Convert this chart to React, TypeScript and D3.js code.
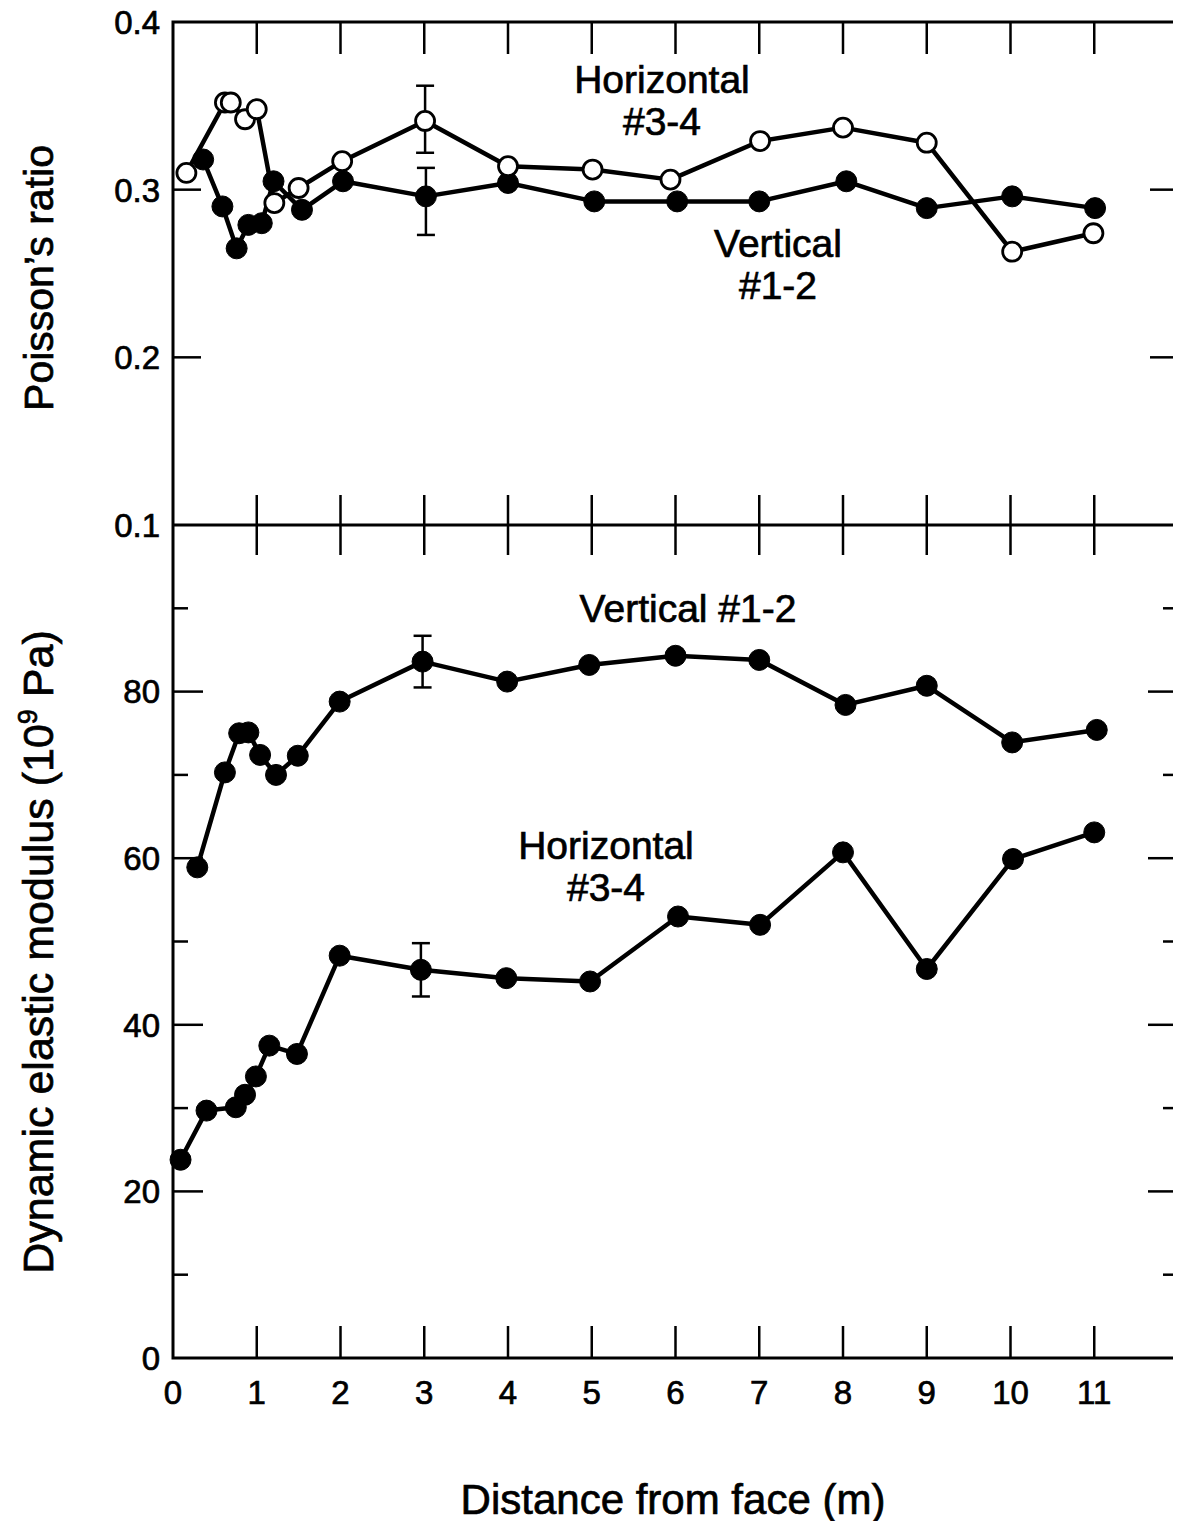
import React, { useRef, useEffect } from 'react';
import * as d3 from 'd3';

// Top panel: Poisson's ratio
const poissonVertX = [0.36, 0.59, 0.76, 0.9, 1.06, 1.2, 1.54, 2.03, 3.02, 4.0, 5.03, 6.02, 7.0, 8.04, 9.0, 10.02, 11.01];
const poissonVertY = [0.318, 0.29, 0.265, 0.279, 0.28, 0.305, 0.288, 0.305, 0.296, 0.304, 0.293, 0.293, 0.293, 0.305, 0.289, 0.296, 0.289];
const poissonHorX = [0.16, 0.62, 0.69, 0.86, 1.0, 1.21, 1.5, 2.02, 3.01, 4.0, 5.01, 5.94, 7.01, 8.0, 9.0, 10.02, 10.99];
const poissonHorY = [0.31, 0.352, 0.352, 0.342, 0.348, 0.292, 0.301, 0.317, 0.341, 0.314, 0.312, 0.306, 0.329, 0.337, 0.328, 0.263, 0.274];

// Bottom panel: dynamic elastic modulus (10^9 Pa)
const modVertX = [0.29, 0.62, 0.79, 0.9, 1.04, 1.23, 1.49, 1.99, 2.98, 3.99, 4.97, 6.0, 7.0, 8.03, 9.0, 10.02, 11.03];
const modVertY = [58.9, 70.3, 75.0, 75.1, 72.4, 70.0, 72.3, 78.8, 83.6, 81.2, 83.2, 84.3, 83.8, 78.4, 80.7, 73.9, 75.4];
const modHorX = [0.09, 0.4, 0.75, 0.86, 0.99, 1.15, 1.48, 1.99, 2.96, 3.98, 4.98, 6.03, 7.01, 8.0, 9.0, 10.03, 11.0];
const modHorY = [23.8, 29.7, 30.1, 31.6, 33.8, 37.5, 36.5, 48.3, 46.6, 45.6, 45.2, 53.0, 52.0, 60.7, 46.7, 59.9, 63.1];

// error bars at 3 m: [x, low, high]
const poissonErrors = [[3.02, 0.273, 0.313], [3.01, 0.322, 0.362]];
const modErrors = [[2.98, 80.5, 86.7], [2.96, 43.4, 49.8]];

const xTicks = [0, 1, 2, 3, 4, 5, 6, 7, 8, 9, 10, 11];
const poissonTicks = [0.1, 0.2, 0.3, 0.4];
const modMajorTicks = [0, 20, 40, 60, 80];
const modMinorTicks = [10, 30, 50, 70, 90];

const FONT = '"Liberation Sans", Arial, Helvetica, sans-serif';

const Chart = () => {
  const ref = useRef<SVGSVGElement>(null);

  useEffect(() => {
    const svg = d3.select(ref.current);
    svg.selectAll('*').remove();

    const left = 173, right = 1178;
    const top = 22, mid = 525, bottom = 1358;

    const x = d3.scaleLinear().domain([0, 12]).range([left, right]);
    const yP = d3.scaleLinear().domain([0.1, 0.4]).range([mid, top]);
    const yM = d3.scaleLinear().domain([0, 100]).range([bottom, mid]);

    const frame = svg.append('g').attr('stroke', '#000').attr('stroke-width', 3).attr('fill', 'none');
    frame.append('rect').attr('x', left).attr('y', top).attr('width', right - left).attr('height', bottom - top);
    frame.append('line').attr('x1', left).attr('x2', right).attr('y1', mid).attr('y2', mid);

    // x ticks: top edge (down), divider (both ways), bottom edge (up)
    const tk = svg.append('g').attr('stroke', '#000').attr('stroke-width', 2.5);
    xTicks.filter(d => d > 0).forEach(d => {
      tk.append('line').attr('x1', x(d)).attr('x2', x(d)).attr('y1', top).attr('y2', top + 32);
      tk.append('line').attr('x1', x(d)).attr('x2', x(d)).attr('y1', mid - 30).attr('y2', mid + 30);
      tk.append('line').attr('x1', x(d)).attr('x2', x(d)).attr('y1', bottom).attr('y2', bottom - 32);
    });

    // y ticks, left and right, inward
    const yTick = (yy: number, len: number) => {
      tk.append('line').attr('x1', left).attr('x2', left + len).attr('y1', yy).attr('y2', yy);
      tk.append('line').attr('x1', right).attr('x2', right - len).attr('y1', yy).attr('y2', yy);
    };
    [0.2, 0.3].forEach(d => yTick(yP(d), 28));
    modMajorTicks.filter(d => d > 0).forEach(d => yTick(yM(d), 30));
    modMinorTicks.forEach(d => yTick(yM(d), 15));

    const labels = svg.append('g').attr('font-family', FONT).attr('fill', '#000')
      .attr('stroke', '#000').attr('stroke-width', 0.7);

    poissonTicks.forEach(d => {
      labels.append('text').attr('x', 160).attr('y', yP(d)).attr('dy', '0.36em')
        .attr('text-anchor', 'end').attr('font-size', 33).text(d3.format('.1f')(d));
    });
    modMajorTicks.forEach(d => {
      labels.append('text').attr('x', 160).attr('y', yM(d)).attr('dy', '0.36em')
        .attr('text-anchor', 'end').attr('font-size', 33).text(d);
    });
    xTicks.forEach(d => {
      labels.append('text').attr('x', x(d)).attr('y', 1404)
        .attr('text-anchor', 'middle').attr('font-size', 33).text(d);
    });

    // axis titles
    labels.append('text').attr('transform', 'translate(53,278) rotate(-90)')
      .attr('text-anchor', 'middle').attr('font-size', 41).text('Poisson’s ratio');
    const t2 = labels.append('text').attr('transform', 'translate(53,952) rotate(-90)')
      .attr('text-anchor', 'middle').attr('font-size', 43);
    t2.append('tspan').text('Dynamic elastic modulus (10');
    t2.append('tspan').attr('font-size', 27).attr('dy', -16).text('9');
    t2.append('tspan').attr('dy', 16).text(' Pa)');
    labels.append('text').attr('x', 673).attr('y', 1514)
      .attr('text-anchor', 'middle').attr('font-size', 42).text('Distance from face (m)');

    // annotations
    const note = (lines: string[], cx: number, y0: number) => {
      lines.forEach((s, i) => {
        labels.append('text').attr('x', cx).attr('y', y0 + i * 42)
          .attr('text-anchor', 'middle').attr('font-size', 39).text(s);
      });
    };
    note(['Horizontal', '#3-4'], 662, 93);
    note(['Vertical', '#1-2'], 778, 257);
    note(['Vertical #1-2'], 688, 622);
    note(['Horizontal', '#3-4'], 606, 859);

    // error bars
    const err = svg.append('g').attr('stroke', '#000').attr('stroke-width', 2.5);
    const drawErr = (rows: number[][], y: d3.ScaleLinear<number, number>) => {
      rows.forEach(([xv, lo, hi]) => {
        const cx = x(xv);
        err.append('line').attr('x1', cx).attr('x2', cx).attr('y1', y(lo)).attr('y2', y(hi));
        err.append('line').attr('x1', cx - 9).attr('x2', cx + 9).attr('y1', y(lo)).attr('y2', y(lo));
        err.append('line').attr('x1', cx - 9).attr('x2', cx + 9).attr('y1', y(hi)).attr('y2', y(hi));
      });
    };
    drawErr(poissonErrors, yP);
    drawErr(modErrors, yM);

    const series = (xs: number[], ys: number[], y: d3.ScaleLinear<number, number>, open: boolean) => {
      const pts = xs.map((v, i) => [x(v), y(ys[i])] as [number, number]);
      const g = svg.append('g');
      g.append('path').attr('d', d3.line()(pts)).attr('fill', 'none')
        .attr('stroke', '#000').attr('stroke-width', 4.5).attr('stroke-linejoin', 'round');
      g.selectAll('circle').data(pts).join('circle')
        .attr('cx', d => d[0]).attr('cy', d => d[1])
        .attr('r', open ? 9.5 : 10.5)
        .attr('fill', open ? '#fff' : '#000')
        .attr('stroke', '#000').attr('stroke-width', open ? 2.8 : 1);
    };
    series(poissonVertX, poissonVertY, yP, false);
    series(poissonHorX, poissonHorY, yP, true);
    series(modVertX, modVertY, yM, false);
    series(modHorX, modHorY, yM, false);
  }, []);

  return <svg ref={ref} width={1181} height={1529} style={{ display: 'block', background: '#fff' }}></svg>;
};

export default function App() {
  return (
    <div style={{ margin: -8 }}>
      <Chart />
    </div>
  );
}
